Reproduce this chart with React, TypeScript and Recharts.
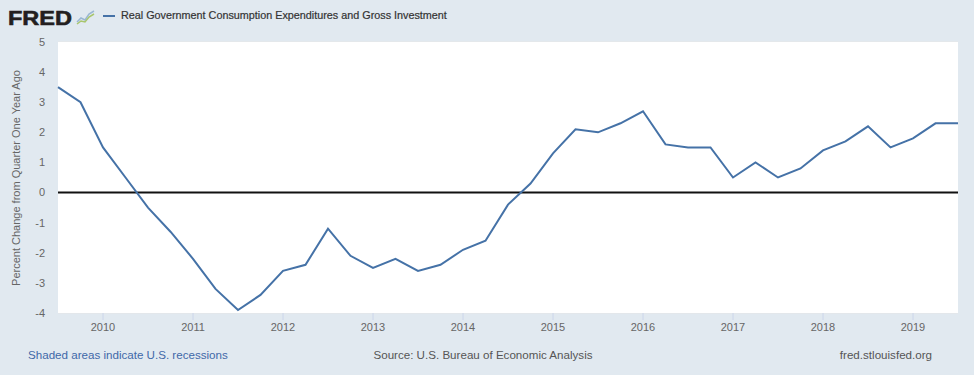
import { LineChart, Line, XAxis, YAxis, CartesianGrid, ReferenceLine } from 'recharts';

// quarterly observations, 2009Q3 .. 2019Q3
const dates = [
  '2009-07-01', '2009-10-01',
  '2010-01-01', '2010-04-01', '2010-07-01', '2010-10-01',
  '2011-01-01', '2011-04-01', '2011-07-01', '2011-10-01',
  '2012-01-01', '2012-04-01', '2012-07-01', '2012-10-01',
  '2013-01-01', '2013-04-01', '2013-07-01', '2013-10-01',
  '2014-01-01', '2014-04-01', '2014-07-01', '2014-10-01',
  '2015-01-01', '2015-04-01', '2015-07-01', '2015-10-01',
  '2016-01-01', '2016-04-01', '2016-07-01', '2016-10-01',
  '2017-01-01', '2017-04-01', '2017-07-01', '2017-10-01',
  '2018-01-01', '2018-04-01', '2018-07-01', '2018-10-01',
  '2019-01-01', '2019-04-01', '2019-07-01',
];

const pctChange = [
  3.5, 3.0,
  1.5, 0.5, -0.5, -1.3,
  -2.2, -3.2, -3.9, -3.4,
  -2.6, -2.4, -1.2, -2.1,
  -2.5, -2.2, -2.6, -2.4,
  -1.9, -1.6, -0.4, 0.3,
  1.3, 2.1, 2.0, 2.3,
  2.7, 1.6, 1.5, 1.5,
  0.5, 1.0, 0.5, 0.8,
  1.4, 1.7, 2.2, 1.5,
  1.8, 2.3, 2.3,
];

const yearTicks = [2010, 2011, 2012, 2013, 2014, 2015, 2016, 2017, 2018, 2019];
const valueTicks = [-4, -3, -2, -1, 0, 1, 2, 3, 4, 5];

const seriesName = 'Real Government Consumption Expenditures and Gross Investment';

// date string -> fractional year for the numeric x axis
const toYear = (d: string) => {
  const [y, m] = d.split('-').map(Number);
  return y + (m - 1) / 12;
};

const data = dates.map((d, i) => ({ t: toYear(d), value: pctChange[i] }));

const FONT = '"Liberation Sans", Arial, sans-serif';

export default function App() {
  return (
    <div
      style={{
        position: 'absolute',
        left: 0,
        top: 0,
        width: 974,
        height: 375,
        background: '#e1e9f0',
        fontFamily: FONT,
        overflow: 'hidden',
      }}
    >
      {/* logo + legend */}
      <div
        style={{
          position: 'absolute',
          left: 8,
          top: 7,
          fontSize: 21,
          lineHeight: '21px',
          fontWeight: 900,
          color: '#231f20',
          transform: 'scaleX(1.12)',
          transformOrigin: 'left center',
          WebkitTextStroke: '0.6px #231f20',
        }}
      >
        FRED
      </div>
      <svg style={{ position: 'absolute', left: 76, top: 9 }} width={20} height={16}>
        <polyline points="1,13 5,9 9,11 13,5 18,2" fill="none" stroke="#9ab7d3" strokeWidth={1.5} />
        <polyline points="1,15 5,12 9,13 13,8 18,5" fill="none" stroke="#a8c66c" strokeWidth={1.5} />
      </svg>
      <div style={{ position: 'absolute', left: 103, top: 15, width: 12, height: 2, background: '#4572a7' }} />
      <div style={{ position: 'absolute', left: 121, top: 9, fontSize: 10.8, color: '#333', WebkitTextStroke: '0.2px #333' }}>
        {seriesName}
      </div>

      {/* y axis title */}
      <div
        style={{
          position: 'absolute',
          left: 16,
          top: 178,
          transform: 'translate(-50%, -50%) rotate(-90deg)',
          whiteSpace: 'nowrap',
          fontSize: 11,
          color: '#666',
        }}
      >
        Percent Change from Quarter One Year Ago
      </div>

      <div style={{ position: 'absolute', left: 0, top: 0 }}>
        <LineChart width={974} height={375} data={data} margin={{ top: 42, right: 16, bottom: 0, left: 0 }}>
          <rect x={58} y={42} width={900} height={271} fill="#fff" />
          <CartesianGrid horizontal vertical={false} stroke="#e6e6e6" />
          <XAxis
            dataKey="t"
            type="number"
            domain={[2009.5, 2019.5]}
            ticks={yearTicks}
            axisLine={false}
            tickLine={{ stroke: '#ccd6eb' }}
            tickSize={7}
            tickMargin={3}
            tick={{ fontSize: 11, fill: '#666', fontFamily: FONT }}
            height={62}
          />
          <YAxis
            type="number"
            domain={[-4, 5]}
            ticks={valueTicks}
            axisLine={false}
            tickLine={false}
            tickSize={6}
            tickMargin={7}
            width={58}
            tick={{ fontSize: 11, fill: '#666', fontFamily: FONT }}
            tickFormatter={(v: number) => String(v)}
          />
          <ReferenceLine y={0} stroke="#111" strokeWidth={2} />
          <Line
            type="linear"
            dataKey="value"
            stroke="#4572a7"
            strokeWidth={2}
            dot={false}
            isAnimationActive={false}
          />
        </LineChart>
      </div>

      {/* footer */}
      <div style={{ position: 'absolute', left: 28, top: 348, fontSize: 11.6, color: '#3f68a8' }}>
        Shaded areas indicate U.S. recessions
      </div>
      <div
        style={{
          position: 'absolute',
          left: 483,
          top: 348,
          fontSize: 11.6,
          color: '#555',
          transform: 'translateX(-50%)',
          whiteSpace: 'nowrap',
        }}
      >
        Source: U.S. Bureau of Economic Analysis
      </div>
      <div style={{ position: 'absolute', right: 42, top: 348, fontSize: 11.6, color: '#555' }}>
        fred.stlouisfed.org
      </div>
    </div>
  );
}
